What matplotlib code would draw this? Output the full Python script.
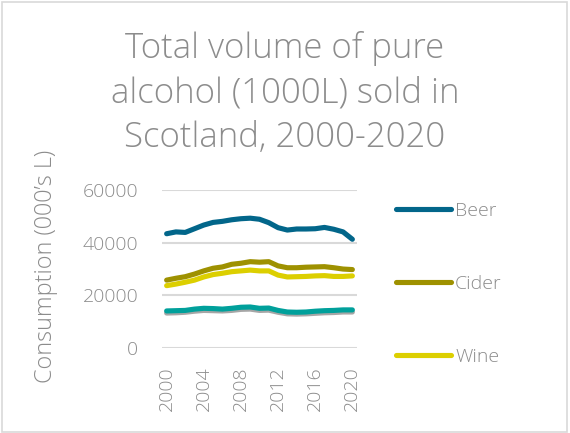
import matplotlib
matplotlib.use("Agg")
import matplotlib.pyplot as plt
from matplotlib.patches import Rectangle

years = list(range(2000, 2021))
beer = [43400, 44100, 43900, 45300, 46700, 47700, 48100, 48700, 49100, 49300, 48900,
        47600, 45700, 44800, 45200, 45200, 45300, 45800, 45100, 44100, 41300]
cider = [25800, 26500, 27100, 28100, 29300, 30300, 30800, 31800, 32200, 32800, 32600,
         32800, 31200, 30500, 30500, 30700, 30800, 30900, 30500, 30000, 29800]
wine = [23700, 24300, 25000, 25800, 27000, 27900, 28400, 29000, 29300, 29600, 29300,
        29300, 27700, 27000, 27100, 27200, 27400, 27500, 27200, 27200, 27400]
spirits = [14100, 14200, 14300, 14800, 15100, 15000, 14800, 15100, 15500, 15600, 15100,
           15200, 14300, 13700, 13600, 13700, 14000, 14200, 14300, 14500, 14500]
other = [13300, 13400, 13600, 14000, 14300, 14200, 14100, 14300, 14700, 14800, 14300,
         14400, 13600, 13000, 12900, 13000, 13200, 13400, 13500, 13700, 13700]

y_ticks = [0, 20000, 40000, 60000]
x_ticks = [2000, 2004, 2008, 2012, 2016, 2020]
title_lines = ["Total volume of pure", "alcohol (1000L) sold in", "Scotland, 2000-2020"]

TEXT = "#8c8c8c"
GRID = "#d9d9d9"
FONT = ["Open Sans", "DejaVu Sans"]

plt.rcParams["font.family"] = FONT
plt.rcParams["font.weight"] = "light"

fig = plt.figure(figsize=(5.7, 4.33), dpi=100)
ax = fig.add_axes([162 / 570, 1 - 348.1 / 433, 195 / 570, 158.1 / 433])

lw = 3.7
ax.plot(years, other, color="#a6a6a6", lw=lw, solid_capstyle="round", label="Other")
ax.plot(years, spirits, color="#00a09b", lw=lw, solid_capstyle="round", label="Spirits")
l_wine, = ax.plot(years, wine, color="#dccf00", lw=lw, solid_capstyle="round", label="Wine")
l_cider, = ax.plot(years, cider, color="#9e9100", lw=lw, solid_capstyle="round", label="Cider")
l_beer, = ax.plot(years, beer, color="#02668a", lw=lw, solid_capstyle="round", label="Beer")

ax.set_xlim(1999.5, 2020.5)
ax.set_ylim(0, 60000)
ax.set_yticks(y_ticks)
ax.set_xticks(x_ticks)
ax.set_xticklabels([str(x) for x in x_ticks], rotation=90)
ax.tick_params(axis="both", length=0, labelsize=14, labelcolor=TEXT)
ax.tick_params(axis="y", pad=17)
ax.tick_params(axis="x", pad=13)
for s in ax.spines.values():
    s.set_visible(False)
ax.grid(axis="y", color=GRID, lw=1.5)
ax.set_axisbelow(True)

fig.text(46 / 570, 1 - 266 / 433, "Consumption (000’s L)", rotation=90,
         ha="center", va="center", fontsize=16.8, color=TEXT)

leg = ax.legend(handles=[l_beer, l_cider, l_wine], loc="upper left",
                bbox_to_anchor=(388 / 570, 1 - 194 / 433), bbox_transform=fig.transFigure,
                frameon=False, fontsize=14, handlelength=2.85, handletextpad=0.2,
                labelspacing=2.83, borderaxespad=0)
for t in leg.get_texts():
    t.set_color(TEXT)

for i, line in enumerate(title_lines):
    fig.text(0.5, 1 - (58 + 44.5 * i) / 433, line, ha="center", va="baseline",
             fontsize=25, color=TEXT)

fig.patches.append(Rectangle((2 / 570, 1 / 433), 565 / 570, 430 / 433, transform=fig.transFigure,
                             fill=False, edgecolor=GRID, lw=1.2))

fig.savefig("out.png", dpi=100)
